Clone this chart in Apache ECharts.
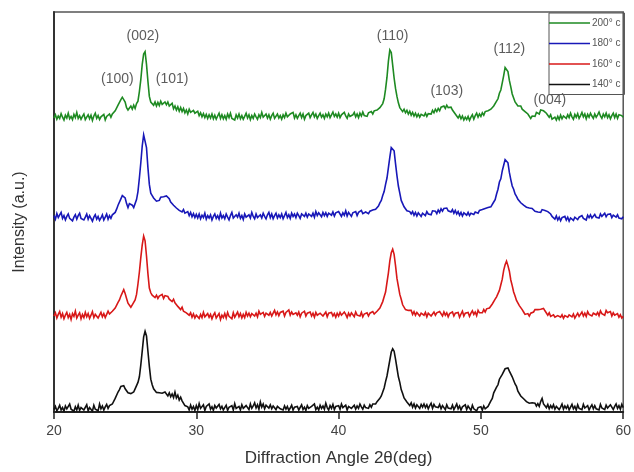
<!DOCTYPE html>
<html>
<head>
<meta charset="utf-8">
<script src="https://cdn.jsdelivr.net/npm/echarts@6/dist/echarts.min.js"></script>
<style>
html,body{margin:0;padding:0;background:#fff;}
#chart{width:634px;height:472px;}
</style>
</head>
<body>
<div id="chart"></div>
<script>
// 2θ sampling grid: 20.0 .. 60.0 in 0.1° steps (401 points)
const twoThetaStart = 20;
const twoThetaStep = 0.1;

const seriesNames = ['200° c', '180° c', '160° c', '140° c'];
const seriesColors = ['#1e8a22', '#1818b8', '#d81818', '#111111'];
// vertical stacking offsets (a.u.) for each pattern
const offsets = [72.9, 47.9, 23.0, 0];

const int200 = [
0.6,1.4,0.3,1.1,0.5,1.7,0.8,0.1,1.3,0.6,
1.8,0.4,1.0,0.2,1.5,0.7,2.0,0.5,1.2,0.3,
1.0,1.6,0.2,0.8,1.4,0.4,1.3,0.0,1.1,1.8,
0.5,1.2,0.2,0.9,0.4,1.5,0.1,1.0,0.6,1.6,
0.8,1.6,1.3,2.4,2.6,3.8,4.0,5.2,5.8,5.4,
4.6,3.2,2.6,3.0,3.6,2.8,3.8,3.0,4.2,4.8,
7.2,10.2,14.0,16.6,17.2,14.0,9.8,6.0,4.6,4.4,
3.8,4.6,3.6,4.5,3.7,4.8,4.0,3.5,4.6,3.9,
4.6,3.6,3.4,4.3,2.9,3.6,2.6,3.4,2.3,3.2,
2.2,3.0,1.9,2.6,1.6,2.8,2.0,1.5,2.5,1.8,
1.4,2.3,1.2,1.9,0.9,1.7,0.7,1.5,0.5,1.4,
0.6,1.6,0.4,1.3,0.3,1.1,1.8,0.5,1.4,0.4,
1.2,0.3,1.6,0.7,1.8,0.5,1.0,0.1,1.4,0.6,
1.6,0.4,1.2,0.3,1.0,1.8,0.6,1.4,0.2,1.2,
0.5,1.6,0.9,0.3,1.4,0.7,2.0,0.8,0.4,1.6,
0.6,1.4,0.3,1.2,1.8,0.5,1.0,1.6,0.6,1.2,
0.3,1.4,0.7,1.8,0.9,0.4,1.6,1.1,2.0,0.6,
1.4,0.5,1.2,1.8,0.7,1.6,0.3,1.2,0.9,1.8,
0.7,1.4,2.0,0.9,1.6,0.5,1.2,1.8,0.8,1.4,
0.5,1.6,0.9,1.8,0.7,1.4,2.1,1.0,1.6,0.8,
1.8,0.7,1.4,0.9,2.0,1.1,0.5,1.6,1.0,0.6,
1.4,2.0,0.9,1.6,0.7,1.8,1.1,2.1,1.2,1.7,
1.0,1.9,1.4,2.2,1.6,2.4,1.9,2.6,2.6,3.2,
3.2,4.2,5.4,7.8,10.8,14.8,17.6,17.0,13.8,10.6,
8.0,6.0,4.4,3.2,2.8,2.2,2.8,1.9,2.5,1.6,
2.3,1.3,2.0,1.1,1.8,0.9,1.6,0.8,1.5,1.9,
1.1,1.8,1.0,1.7,2.2,1.6,2.5,1.9,2.8,2.2,
3.0,2.4,3.3,2.8,3.6,3.0,3.8,3.2,2.8,3.3,
2.6,2.2,1.6,1.4,0.6,1.3,0.4,1.1,0.1,0.8,
0.2,1.0,0.0,0.8,1.4,0.3,1.2,1.8,0.8,1.6,
1.0,1.9,1.3,2.2,1.7,2.4,2.0,2.8,2.9,3.6,
3.8,4.8,5.4,6.8,7.6,9.4,11.2,13.2,13.2,12.2,
10.0,8.4,6.6,5.6,4.6,4.6,3.6,3.4,3.6,2.8,
2.8,2.2,2.3,1.6,1.2,0.5,1.1,1.5,1.0,2.0,
2.0,1.6,2.6,2.6,2.4,2.8,1.8,1.6,0.8,1.4,
0.3,-0.1,0.8,0.1,1.0,0.2,1.3,0.4,1.1,1.6,
0.5,1.4,0.7,1.8,0.9,0.3,1.5,0.8,1.7,0.5,
1.2,2.0,0.9,1.6,0.4,1.5,0.8,1.8,1.1,0.5,
1.6,0.8,1.4,2.1,1.1,0.5,1.6,0.9,1.8,0.7,
1.4,0.4,1.2,1.8,0.7,1.6,0.5,1.4,0.9,1.2,
0.8];

const int180 = [
1.2,0.3,1.7,0.7,1.4,2.0,0.5,1.2,0.1,1.0,
1.6,0.5,1.0,-0.1,0.8,1.4,0.3,1.2,1.8,0.5,
1.0,0.1,0.8,1.6,0.3,1.2,0.5,-0.2,0.8,1.4,
0.3,1.0,0.0,0.6,1.4,0.1,0.8,1.6,0.3,1.2,
0.5,1.4,1.0,2.0,2.8,3.8,4.2,5.4,6.2,6.6,
5.6,4.2,3.2,4.2,4.4,3.8,3.2,3.6,5.2,7.2,
10.6,14.4,18.6,21.4,21.8,18.2,13.2,9.0,6.8,6.2,
5.6,5.4,4.8,4.6,5.0,5.8,6.0,5.9,6.4,6.1,
5.6,5.4,4.6,4.5,3.8,3.7,3.1,3.2,2.5,3.0,
2.1,2.7,1.8,1.9,2.2,1.2,2.0,0.9,1.7,0.7,
1.5,0.6,1.6,0.4,1.3,0.7,1.8,0.3,1.2,0.6,
1.4,0.1,1.0,1.6,0.5,1.2,0.3,1.8,0.6,1.2,
0.4,1.6,0.8,0.1,1.2,2.0,0.6,0.2,1.4,0.8,
1.8,0.5,1.2,0.2,1.6,0.8,0.3,1.4,0.6,2.0,
1.0,0.4,1.6,0.7,0.2,1.4,0.6,1.8,1.0,0.4,
1.4,2.0,0.7,1.6,0.4,1.2,1.8,0.6,1.4,0.7,
1.6,0.4,1.2,2.0,0.7,1.4,0.5,1.8,1.0,1.6,
0.7,1.8,1.2,0.5,1.6,2.1,1.0,1.8,0.8,1.6,
2.0,1.0,1.8,0.8,2.2,1.2,1.9,1.4,0.9,2.0,
1.2,1.9,1.0,1.8,2.3,1.3,2.1,1.1,1.9,1.4,
2.2,1.6,1.0,1.9,1.3,2.4,1.1,2.0,1.6,1.0,
1.9,1.4,2.2,1.2,2.0,1.6,2.5,1.7,1.3,2.1,
2.4,1.7,2.3,1.9,2.6,2.2,2.8,3.1,3.6,4.4,
5.0,6.2,7.2,9.0,10.6,13.2,15.8,18.2,18.6,17.4,
14.2,11.2,8.6,6.8,5.0,4.2,3.4,3.0,2.4,2.8,
2.2,1.6,2.2,1.3,2.0,1.1,1.9,2.1,1.0,1.8,
2.0,1.2,2.2,1.6,2.1,1.4,2.4,1.9,2.3,1.7,
2.6,2.0,2.9,2.3,3.0,2.5,3.1,2.4,2.9,2.1,
2.7,1.8,2.5,1.6,2.2,1.3,2.0,1.1,1.9,2.1,
1.3,2.0,1.2,1.8,2.3,1.5,2.1,2.6,1.8,2.5,
2.0,2.7,2.2,3.0,2.5,3.2,3.4,3.4,3.9,4.6,
5.2,6.6,7.8,9.6,10.4,12.4,13.8,15.2,15.2,14.4,
12.0,10.2,8.6,7.8,6.6,6.0,5.3,5.0,4.4,4.3,
3.8,3.8,3.3,3.7,3.1,3.0,3.0,2.7,2.3,2.8,
2.1,2.6,2.0,2.7,2.7,2.5,2.6,2.2,1.7,1.6,
1.0,1.0,0.3,1.1,0.1,0.8,-0.1,0.7,0.2,1.0,
0.1,0.8,-0.2,0.6,0.9,0.0,0.8,1.1,0.2,0.8,
0.4,1.2,0.5,1.0,0.1,1.3,0.7,1.4,0.6,1.1,
1.5,0.8,1.3,0.6,1.6,1.0,1.4,1.8,0.9,1.5,
1.0,1.6,0.7,1.3,1.7,0.8,1.4,0.6,1.1,0.4,
0.9];

const int160 = [
1.0,1.8,0.5,1.4,2.1,0.7,1.6,0.3,1.2,1.9,
0.6,1.4,0.1,1.6,0.9,2.2,0.5,1.2,1.8,0.3,
1.4,0.6,1.9,0.8,1.6,0.4,1.2,2.1,0.6,1.4,
1.8,0.5,1.2,1.9,0.8,1.6,0.6,1.4,2.2,1.5,
1.6,2.2,2.2,3.0,3.4,4.4,5.0,6.0,6.8,7.6,
6.6,5.4,4.2,3.8,3.2,3.8,4.0,5.0,6.4,9.0,
12.0,15.6,18.8,21.0,19.8,16.0,11.6,8.0,6.8,6.2,
6.4,5.6,6.2,5.4,6.0,5.6,6.4,5.4,6.1,5.6,
5.9,5.2,5.6,4.6,5.2,4.3,4.0,3.4,3.2,2.6,
3.2,2.2,2.7,1.8,2.3,1.2,1.8,0.7,1.5,0.5,
1.2,1.7,0.4,1.4,0.6,1.9,0.8,0.4,1.6,0.7,
1.4,0.3,1.2,1.8,0.5,1.0,1.6,0.1,1.2,0.6,
1.6,0.5,1.9,0.9,1.4,0.3,1.8,0.7,1.2,2.0,
0.8,1.6,0.5,1.4,0.6,1.9,1.0,1.7,0.8,1.6,
2.0,1.0,1.7,0.8,2.2,1.4,1.1,1.9,0.9,1.7,
2.2,1.2,1.9,1.0,1.7,2.4,1.3,2.0,1.1,1.9,
1.4,2.2,1.0,1.9,1.5,2.5,1.2,2.0,1.4,1.0,
1.8,1.2,2.0,0.8,1.7,1.3,2.2,1.0,1.7,1.2,
2.0,1.0,1.7,0.7,1.9,1.2,0.8,1.7,2.2,1.0,
1.5,2.0,0.8,1.7,1.2,1.9,1.0,1.6,0.7,1.7,
1.0,1.9,1.2,0.8,2.0,1.4,0.6,1.7,1.0,1.8,
1.4,0.8,2.0,1.2,1.7,1.0,1.9,0.8,1.5,1.2,
1.8,1.0,1.7,1.2,2.1,1.5,1.9,2.2,2.6,3.0,
3.8,4.6,5.8,7.0,9.4,11.8,14.8,16.8,17.7,16.4,
13.6,10.4,8.4,6.4,5.2,3.8,3.4,2.6,2.4,2.4,
1.9,2.4,1.4,2.1,1.2,1.9,2.2,1.0,1.7,2.0,
1.2,1.9,0.8,1.7,2.1,1.0,1.5,2.0,1.2,1.8,
1.4,2.1,1.6,1.0,2.0,1.2,1.8,0.8,1.6,1.4,
2.0,1.0,1.7,1.2,1.9,0.7,1.5,2.2,1.0,1.7,
1.2,1.9,0.9,1.7,2.3,1.4,2.0,1.1,2.4,1.8,
2.3,1.8,2.6,2.0,2.8,2.3,3.0,3.4,4.0,4.4,
5.2,5.8,6.6,7.4,8.8,10.2,12.4,13.8,14.7,13.6,
12.2,10.0,8.6,7.0,6.0,4.9,4.4,3.6,3.2,2.6,
2.0,1.4,1.0,1.6,1.0,1.7,2.2,2.0,2.6,2.8,
2.6,3.0,2.7,3.2,2.9,2.3,1.9,1.2,1.8,0.9,
0.5,1.3,0.7,0.3,1.1,1.6,0.7,1.3,0.4,1.1,
1.5,0.7,1.3,1.8,0.8,1.5,0.5,1.1,1.7,0.9,
1.3,2.0,1.0,1.7,0.9,2.1,1.4,1.8,1.0,1.7,
2.1,1.3,1.9,1.1,2.3,1.6,2.0,1.2,2.4,1.8,
1.4,2.1,1.0,1.8,1.2,0.9,1.6,0.7,1.3,0.5,
0.9];

const int140 = [
0.6,1.4,0.3,0.9,1.7,0.5,1.1,0.2,1.5,0.8,
0.3,2.0,0.7,1.2,0.2,1.3,0.5,1.7,0.4,1.1,
1.5,0.5,0.9,1.8,0.3,1.1,1.4,0.2,1.7,0.7,
1.1,0.3,2.0,0.8,1.5,0.5,1.3,1.9,0.9,1.6,
1.2,2.0,2.4,3.4,3.8,5.0,5.6,6.4,6.5,6.6,
5.8,5.4,4.8,4.8,4.6,5.1,5.0,5.8,6.2,7.4,
8.8,11.8,15.2,18.8,20.2,19.0,15.2,11.4,8.2,6.8,
5.8,5.6,4.9,5.0,4.8,4.6,4.7,4.4,5.0,4.6,
4.0,4.8,3.8,4.5,3.6,5.0,3.5,4.2,3.0,3.7,
2.8,2.6,1.6,1.2,1.3,0.5,1.7,0.7,1.4,0.4,
1.6,0.6,2.1,0.9,0.7,1.8,0.4,1.4,0.9,2.0,
0.7,1.3,0.4,1.6,1.0,0.5,1.9,0.8,1.4,0.5,
1.0,1.7,0.4,1.2,0.7,1.6,0.5,2.1,0.9,0.6,
1.4,0.5,1.8,0.9,0.4,1.6,1.1,0.6,2.0,0.9,
1.5,2.3,1.0,1.8,0.7,2.5,1.2,2.0,0.8,1.7,
2.1,1.0,1.8,0.8,1.5,2.0,0.6,1.4,1.7,0.8,
1.2,0.5,1.5,0.7,1.4,0.4,1.0,1.7,0.5,1.2,
0.7,1.4,0.5,1.0,1.8,0.6,1.2,0.4,1.6,0.9,
0.5,1.4,0.9,2.0,0.6,1.2,0.5,1.7,0.9,1.5,
0.7,2.2,1.1,0.5,1.6,0.9,1.9,0.6,1.4,1.0,
1.6,0.7,2.0,1.1,0.8,1.7,0.5,1.4,1.9,0.9,
1.1,1.7,0.7,1.5,0.9,2.0,1.3,0.7,1.7,1.1,
1.5,0.9,1.8,1.2,2.0,2.0,2.0,2.6,2.9,3.4,
4.0,5.0,6.0,7.6,9.0,11.0,13.0,15.0,15.8,15.2,
13.2,11.0,8.8,7.4,5.6,4.6,3.5,3.2,2.5,2.4,
1.6,2.3,1.2,2.0,1.0,1.8,2.2,0.9,1.9,1.2,
2.0,1.1,1.8,0.8,1.6,2.2,0.9,1.9,1.3,1.6,
1.1,1.9,0.8,1.6,1.4,0.6,1.8,1.0,1.5,0.8,
1.7,0.6,1.3,2.0,0.8,1.5,0.5,1.3,0.8,1.8,
0.6,1.5,1.0,0.4,1.7,0.8,1.3,0.3,1.1,0.6,
1.3,0.5,1.5,0.8,0.6,1.4,1.8,2.8,3.4,4.8,
5.0,6.2,6.8,8.2,8.6,9.4,9.8,10.8,11.0,11.0,
10.2,9.8,8.8,8.4,7.0,6.4,5.2,5.0,4.0,4.1,
3.3,3.2,2.6,3.1,2.2,2.3,2.3,1.8,2.2,1.5,
2.1,1.4,2.6,3.4,2.0,1.6,1.1,1.9,0.8,1.6,
1.0,1.8,0.7,1.4,1.7,0.6,1.2,2.0,0.7,1.5,
0.9,1.6,0.5,1.2,1.9,0.8,1.4,0.5,1.8,0.9,
1.4,0.6,1.9,1.0,0.8,1.6,0.5,1.2,1.8,0.8,
1.6,0.8,1.3,0.5,1.9,1.0,1.5,0.6,1.7,1.0,
0.8,1.8,1.2,0.6,1.4,2.0,0.9,1.6,0.7,1.9,
1.1];

const intensities = [int200, int180, int160, int140];

// Miller-index annotations: label, 2θ position, height (plot units)
const peakLabels = ['(100)', '(002)', '(101)', '(110)', '(103)', '(112)', '(004)'];
const peakLabelX = [24.45, 26.25, 28.3, 43.8, 47.6, 52.0, 54.85];
const peakLabelY = [83.1, 94.0, 83.1, 93.9, 80.2, 90.8, 78.0];

const xTicks = [20, 30, 40, 50, 60];

function toPairs(arr, off) {
  return arr.map((v, i) => [+(twoThetaStart + i * twoThetaStep).toFixed(1), v + off]);
}

const series = intensities.map((arr, k) => ({
  name: seriesNames[k],
  type: 'line',
  data: toPairs(arr, offsets[k]),
  showSymbol: false,
  symbol: 'none',
  animation: false,
  lineStyle: { color: seriesColors[k], width: 1.6, join: 'miter' },
  itemStyle: { color: seriesColors[k] },
  z: 3
}));

series.push({
  name: 'labels',
  type: 'scatter',
  data: peakLabels.map((t, i) => [peakLabelX[i], peakLabelY[i], t]),
  symbolSize: 1,
  itemStyle: { color: 'rgba(0,0,0,0)' },
  animation: false,
  silent: true,
  label: {
    show: true,
    position: 'inside',
    formatter: p => p.data[2],
    fontFamily: 'Liberation Sans, Arial, sans-serif',
    fontSize: 14,
    color: '#333'
  },
  z: 2
});

const chart = echarts.init(document.getElementById('chart'), null, { renderer: 'canvas' });
chart.setOption({
  backgroundColor: '#fff',
  animation: false,
  grid: {
    left: 54, right: 8, top: 12, bottom: 58,
    show: true, borderColor: '#555', borderWidth: 1.5, backgroundColor: 'transparent'
  },
  legend: {
    data: seriesNames,
    orient: 'vertical',
    left: 549,
    top: 13,
    icon: 'rect',
    itemWidth: 41,
    itemHeight: 1.5,
    itemGap: 10.5,
    padding: [5, 4, 5, 0],
    borderColor: '#555',
    borderWidth: 1,
    backgroundColor: 'transparent',
    textStyle: { fontSize: 10, color: '#555', fontFamily: 'Liberation Sans, Arial, sans-serif', padding: [0, 0, 0, -3] },
    selectedMode: false
  },
  xAxis: {
    type: 'value',
    min: xTicks[0],
    max: xTicks[xTicks.length - 1],
    interval: 10,
    name: 'Diffraction Angle 2θ(deg)',
    nameLocation: 'middle',
    nameGap: 38,
    nameTextStyle: { fontSize: 17, color: '#333', fontFamily: 'Liberation Sans, Arial, sans-serif' },
    axisLine: { show: true, onZero: false, lineStyle: { color: '#222', width: 2 } },
    axisTick: { show: true, inside: false, length: 7, lineStyle: { color: '#222', width: 1.5 } },
    axisLabel: { fontSize: 14, color: '#444', margin: 12, fontFamily: 'Liberation Sans, Arial, sans-serif' },
    splitLine: { show: false }
  },
  yAxis: {
    type: 'value',
    min: 0,
    max: 100,
    axisLine: { show: true, onZero: false, lineStyle: { color: '#333', width: 2 } },
    axisTick: { show: false },
    axisLabel: { show: false },
    splitLine: { show: false }
  },
  graphic: [{
    type: 'text',
    x: 20, y: 222,
    rotation: Math.PI / 2,
    style: {
      text: 'Intensity (a.u.)',
      fill: '#333',
      font: '16px "Liberation Sans", Arial, sans-serif',
      textAlign: 'center',
      textVerticalAlign: 'middle'
    }
  }],
  series: series
});
</script>
</body>
</html>
